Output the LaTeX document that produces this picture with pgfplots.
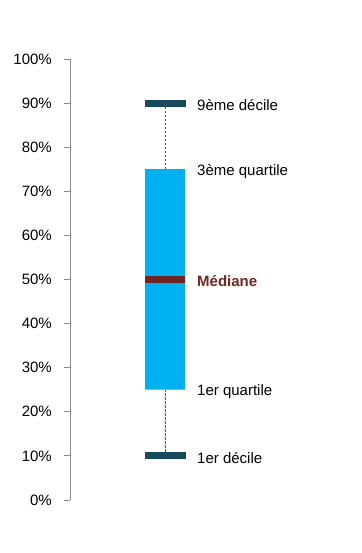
\documentclass[border=0pt]{standalone}
\usepackage{fontspec}
\setmainfont{Liberation Sans}
\usepackage{pgfplots}
\pgfplotsset{compat=1.18}
\definecolor{boxc}{HTML}{00B0F0}
\definecolor{decc}{HTML}{174A5C}
\definecolor{medc}{HTML}{6E2622}
\definecolor{dashc}{HTML}{2F5F73}
\definecolor{axc}{HTML}{8C8C8C}
\begin{document}
\begin{tikzpicture}[x=1bp,y=1bp]
\useasboundingbox (0,0) rectangle (361,553);
\begin{axis}[
  at={(70bp,53bp)}, anchor=origin,
  scale only axis, width=291bp, height=441bp,
  xmin=70, xmax=361, ymin=0, ymax=100,
  axis x line=none, axis y line=left,
  axis line style={-, axc, line width=0.8pt},
  ytick={0,10,...,100},
  yticklabel={\pgfmathprintnumber{\tick}\%},
  /pgf/number format/assume math mode=true,
  tick align=outside, major tick length=6bp,
  ytick style={axc, line width=0.8pt},
  yticklabel style={font=\fontsize{15bp}{18bp}\selectfont, inner sep=0pt, xshift=-12bp},
  clip=false,
]
\addplot[draw=none, fill=boxc] coordinates {(145,25) (185,25) (185,75) (145,75) (145,25)};
\addplot[dashc, dash pattern=on 2.5bp off 1.5bp, line width=1pt] coordinates {(165,10) (165,25)};
\addplot[dashc, dash pattern=on 2.5bp off 1.5bp, line width=1pt] coordinates {(165,75) (165,90)};
\addplot[decc, line width=7bp] coordinates {(145,10) (186,10)};
\addplot[decc, line width=7bp] coordinates {(145,90) (186,90)};
\addplot[medc, line width=7bp] coordinates {(145,50) (185,50)};
\begin{scope}[every node/.style={anchor=west, inner sep=0pt, yshift=-2bp, font=\fontsize{15bp}{18bp}\selectfont}]
\node at (axis cs:197,90) {9ème décile};
\node at (axis cs:197,75) {3ème quartile};
\node[text=medc, font=\fontsize{15bp}{18bp}\selectfont\bfseries] at (axis cs:197,50) {Médiane};
\node at (axis cs:197,25) {1er quartile};
\node at (axis cs:197,10) {1er décile};
\end{scope}
\end{axis}
\end{tikzpicture}
\end{document}
